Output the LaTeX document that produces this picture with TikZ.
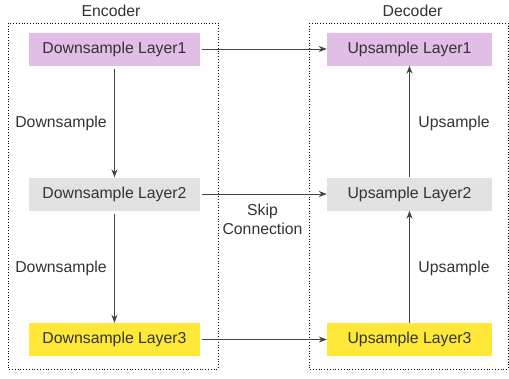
\documentclass[tikz,border=0pt]{standalone}
\usepackage{fontspec}
\setmainfont{Liberation Sans}
\usetikzlibrary{arrows.meta}

\definecolor{txtgray}{HTML}{333333}
\definecolor{linegray}{HTML}{444444}
\definecolor{layerone}{HTML}{E0BEE6}
\definecolor{layertwo}{HTML}{E2E2E2}
\definecolor{layerthree}{HTML}{FFE838}

\tikzset{
  layer/.style={minimum height=33pt, inner sep=0pt, text=txtgray,
    font=\fontsize{15.8}{18}\selectfont},
  lbl/.style={text=txtgray, inner sep=0pt, align=center,
    font=\fontsize{15.8}{19}\selectfont},
  flow/.style={draw=linegray, line width=1pt, -{Stealth[length=8pt,width=6pt]}},
  group/.style={draw=black, dotted, line width=0.8pt}
}

\begin{document}
\begin{tikzpicture}[x=1pt,y=-1pt]
    \useasboundingbox (0,0) rectangle (509,378);

    % encoder / decoder frames
    \draw [group] (8,23) rectangle (218,369);
    \draw [group] (309,23) rectangle (508,369);
    \node [lbl] (enc) at (111,11) {Encoder};
    \node [lbl] (dec) at (412.5,11) {Decoder};

    % encoder layers
    \node [layer, fill=layerone,   minimum width=171pt] (d1) at (114.5,49)  {Downsample Layer1};
    \node [layer, fill=layertwo,   minimum width=171pt] (d2) at (114.5,194) {Downsample Layer2};
    \node [layer, fill=layerthree, minimum width=171pt] (d3) at (114.5,339.5) {Downsample Layer3};

    % decoder layers
    \node [layer, fill=layerone,   minimum width=165pt] (u1) at (409.5,49)  {Upsample Layer1};
    \node [layer, fill=layertwo,   minimum width=165pt] (u2) at (409.5,194) {Upsample Layer2};
    \node [layer, fill=layerthree, minimum width=165pt] (u3) at (409.5,339.5) {Upsample Layer3};

    \draw [flow, shorten <=3pt] (d1) -- (d2);
    \draw [flow, shorten <=3pt] (d2) -- (d3);
    \draw [flow] (u3) -- (u2);
    \draw [flow] (u2) -- (u1);

    % skip connections
    \draw [flow, shorten <=2pt] (d1) -- (u1);
    \draw [flow, shorten <=2pt] (d2) -- (u2);
    \draw [flow, shorten <=2pt] (d3) -- (u3);

    \node [lbl] (ds1) at (61,123) {Downsample};
    \node [lbl] (ds2) at (61,268) {Downsample};
    \node [lbl] (us1) at (454,123) {Upsample};
    \node [lbl] (us2) at (454,268) {Upsample};
    \node [lbl] (skip) at (262.5,219.5) {Skip\\Connection};
\end{tikzpicture}
\end{document}
